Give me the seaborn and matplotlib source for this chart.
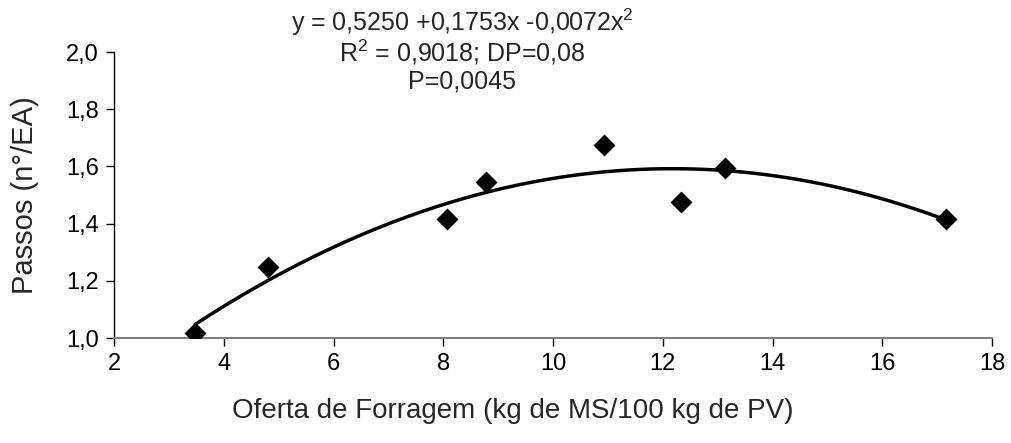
import numpy as np
import pandas as pd
import matplotlib
matplotlib.use("Agg")
import matplotlib.pyplot as plt
import seaborn as sns

# Observed values
oferta = [3.48, 4.80, 8.06, 8.77, 10.93, 12.33, 13.13, 17.16]
passos = [1.018, 1.249, 1.415, 1.544, 1.675, 1.474, 1.593, 1.415]

# Quadratic fit coefficients (b0, b1, b2)
coef = [0.5250, 0.1753, -0.0072]

xticks = [2, 4, 6, 8, 10, 12, 14, 16, 18]
yticks = [1.0, 1.2, 1.4, 1.6, 1.8, 2.0]

eq_lines = ["y = 0,5250 +0,1753x -0,0072x$^2$",
            "R$^2$ = 0,9018; DP=0,08",
            "P=0,0045"]

sns.set_theme(style="ticks")
plt.rcParams["font.family"] = ["Liberation Sans", "DejaVu Sans"]
plt.rcParams["mathtext.fontset"] = "custom"
plt.rcParams["mathtext.rm"] = "Liberation Sans"

fig = plt.figure(figsize=(10.11, 4.43), dpi=100)
ax = fig.add_axes([0.1128, 0.237, 0.8684, 0.6456])

pts = pd.DataFrame({"x": oferta, "y": passos})
xs = np.linspace(min(oferta), max(oferta), 200)
fit = pd.DataFrame({"x": xs, "y": coef[0] + coef[1] * xs + coef[2] * xs ** 2})

sns.lineplot(data=fit, x="x", y="y", ax=ax, color="black", linewidth=2.5, zorder=2)
sns.scatterplot(data=pts, x="x", y="y", ax=ax, marker="D", s=125, color="black",
                edgecolor="black", linewidth=0, zorder=3)

ax.set_xlim(2, 18)
ax.set_ylim(1.0, 2.0)
ax.set_xticks(xticks)
ax.set_yticks(yticks)
ax.set_xticklabels([str(v) for v in xticks])
ax.set_yticklabels([f"{v:.1f}".replace(".", ",") for v in yticks])
ax.tick_params(axis="both", labelsize=17, length=6, width=1, direction="out",
               color="black", labelcolor="black")
ax.tick_params(axis="x", pad=5)
ax.tick_params(axis="y", pad=5)

for side in ("top", "right"):
    ax.spines[side].set_visible(False)
ax.spines["left"].set_color("black")
ax.spines["left"].set_linewidth(1)
ax.spines["bottom"].set_color("#808080")
ax.spines["bottom"].set_linewidth(1.5)

ax.set_xlabel("Oferta de Forragem (kg de MS/100 kg de PV)", fontsize=20)
ax.xaxis.set_label_coords(0.454, -0.21)
ax.set_ylabel("Passos (n°/EA)", fontsize=21, ha="center", va="center")
ax.yaxis.set_label_coords(-0.101, 0.5)

for i, line in enumerate(eq_lines):
    fig.text(462 / 1011, 1 - (22 + 30 * i) / 443, line,
             ha="center", va="center", fontsize=18)

fig.savefig("out.png", dpi=100)
